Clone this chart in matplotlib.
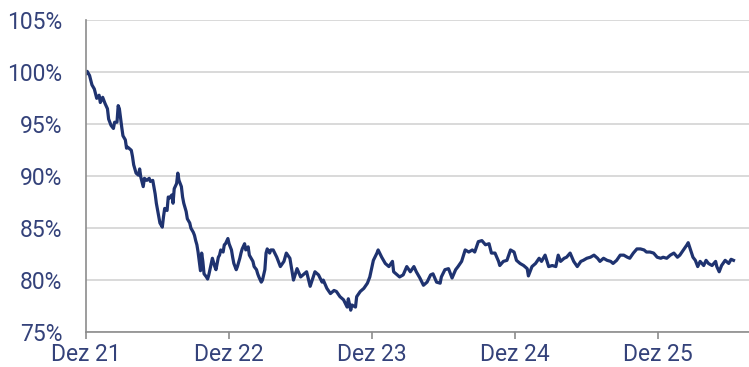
import matplotlib.pyplot as plt
from matplotlib.ticker import FuncFormatter

# months since Dez 21 and indexed value in %
months = [0.0, 0.1, 0.3, 0.5, 0.7, 0.9, 1.1, 1.2, 1.4, 1.6, 1.8, 1.9, 2.1, 2.3, 2.4, 2.6,
          2.7, 2.8, 3.0, 3.1, 3.3, 3.4, 3.5, 3.8, 3.9, 4.0, 4.2, 4.4, 4.5, 4.6, 4.8, 4.9,
          5.1, 5.3, 5.4, 5.6, 5.8, 5.9, 6.1, 6.2, 6.4, 6.5, 6.6, 6.8, 6.9, 7.0, 7.2, 7.3,
          7.4, 7.6, 7.7, 7.8, 8.0, 8.1, 8.2, 8.4, 8.5, 8.7, 8.8, 9.0, 9.1, 9.2, 9.3, 9.4,
          9.6, 9.7, 9.8, 9.9, 10.1, 10.2, 10.3, 10.5, 10.6, 10.8, 10.9, 11.1, 11.2, 11.3,
          11.5, 11.6, 11.7, 11.9, 12.0, 12.2, 12.3, 12.4, 12.6, 12.7, 12.9, 13.0, 13.1,
          13.3, 13.4, 13.6, 13.7, 13.8, 14.0, 14.1, 14.3, 14.4, 14.5, 14.7, 14.8, 15.0,
          15.1, 15.2, 15.4, 15.5, 15.7, 16.0, 16.3, 16.6, 16.8, 17.1, 17.4, 17.7, 18.0,
          18.2, 18.5, 18.8, 19.2, 19.5, 19.8, 19.9, 20.2, 20.5, 20.8, 21.0, 21.3, 21.6,
          21.9, 22.0, 22.2, 22.3, 22.6, 22.7, 23.0, 23.3, 23.6, 23.8, 24.1, 24.4, 24.5,
          24.8, 25.1, 25.4, 25.7, 25.8, 26.1, 26.3, 26.6, 26.9, 27.2, 27.5, 27.7, 28.0,
          28.3, 28.6, 28.9, 29.1, 29.4, 29.7, 29.8, 30.1, 30.4, 30.7, 31.0, 31.2, 31.5,
          31.8, 32.1, 32.4, 32.6, 32.9, 33.2, 33.5, 33.8, 34.0, 34.3, 34.6, 34.7, 35.0,
          35.3, 35.6, 35.9, 36.1, 36.4, 36.7, 37.0, 37.1, 37.4, 37.7, 38.0, 38.2, 38.5,
          38.8, 39.1, 39.4, 39.6, 39.8, 40.1, 40.3, 40.6, 40.9, 41.2, 41.5, 41.7, 42.0,
          42.3, 42.6, 42.9, 43.1, 43.4, 43.7, 44.0, 44.2, 44.5, 44.8, 45.1, 45.4, 45.6,
          45.9, 46.2, 46.5, 46.8, 47.0, 47.3, 47.6, 47.9, 48.2, 48.4, 48.7, 49.0, 49.3,
          49.6, 49.8, 50.1, 50.4, 50.5, 50.7, 50.9, 51.1, 51.3, 51.5, 51.8, 52.0, 52.2,
          52.5, 52.8, 52.9, 53.1, 53.3, 53.6, 53.9, 54.1, 54.3]
values = [99.9, 100.1, 99.7, 98.8, 98.4, 97.5, 97.8, 97.1, 97.6, 97.0, 96.5, 95.5, 94.9, 94.6, 95.2, 95.2,
          96.8, 96.5, 94.7, 93.9, 93.5, 92.7, 92.8, 92.5, 91.9, 91.1, 90.3, 90.1, 90.7, 89.9, 89.0, 89.8,
          89.6, 89.8, 89.5, 89.6, 88.3, 87.4, 86.1, 85.5, 85.1, 86.1, 86.9, 86.7, 88.0, 87.9, 88.2, 87.4,
          88.8, 89.3, 90.3, 89.6, 89.0, 88.0, 87.4, 86.6, 85.9, 85.5, 85.0, 84.6, 84.3, 83.8, 83.4, 82.7,
          80.9, 82.6, 81.8, 80.6, 80.3, 80.1, 80.5, 81.6, 82.1, 81.3, 81.0, 82.2, 82.4, 82.9,
          82.7, 83.4, 83.5, 84.0, 83.5, 82.9, 82.2, 81.6, 81.0, 81.3, 82.1, 82.6, 83.0,
          83.5, 82.9, 83.2, 82.4, 82.2, 81.8, 81.3, 81.0, 80.6, 80.3, 79.8, 80.0, 81.0,
          82.6, 83.0, 82.6, 82.9, 82.9, 82.2, 81.3, 81.8, 82.6, 82.1, 80.0, 81.1, 80.3,
          80.5, 80.8, 79.4, 80.8, 80.5, 79.8, 80.0, 79.2, 78.7, 79.0, 78.9, 78.4, 78.1,
          77.4, 78.2, 77.1, 77.6, 77.4, 78.4, 78.9, 79.2, 79.7, 80.3, 81.9, 82.6, 82.9,
          82.2, 81.6, 81.3, 81.8, 80.8, 80.5, 80.3, 80.5, 81.3, 80.8, 81.3, 80.8, 80.2,
          79.5, 79.8, 80.5, 80.6, 79.8, 79.7, 80.3, 81.0, 81.1, 80.2, 81.0, 81.3, 81.8,
          82.9, 82.7, 82.9, 82.7, 83.7, 83.8, 83.4, 83.5, 82.6, 82.6, 81.8, 81.4, 81.8,
          81.9, 82.9, 82.7, 81.9, 81.6, 81.4, 81.1, 80.4, 81.3, 81.6, 82.1, 81.8, 82.4,
          81.3, 81.4, 81.3, 82.4, 81.8, 82.1, 82.2, 82.6, 81.8, 81.3, 81.8, 81.9, 82.1,
          82.2, 82.4, 82.1, 81.8, 82.1, 81.9, 81.8, 81.6, 81.9, 82.4, 82.4, 82.2, 82.1,
          82.6, 83.0, 83.0, 82.9, 82.7, 82.7, 82.6, 82.2, 82.1, 82.2, 82.1, 82.4, 82.6,
          82.2, 82.4, 82.9, 83.4, 83.6, 82.9, 82.2, 81.9, 81.3, 81.8, 81.4, 81.9, 81.6,
          81.4, 81.8, 81.3, 80.8, 81.4, 81.9, 81.6, 82.0, 81.9]

tick_months = [0, 12, 24, 36, 48]
tick_labels = ['Dez 21', 'Dez 22', 'Dez 23', 'Dez 24', 'Dez 25']
y_ticks = [75, 80, 85, 90, 95, 100, 105]

line_color = '#1f3370'
text_color = '#34427a'

plt.rcParams['font.family'] = ['Roboto', 'DejaVu Sans']

fig = plt.figure(figsize=(7.49, 3.67), dpi=100)
ax = fig.add_axes([0.1148, 0.0954, 0.8852, 0.8488])

ax.plot(months, values, color=line_color, linewidth=2.3, solid_joinstyle='round')

ax.set_xlim(0, 55.6)
ax.set_ylim(75, 105)
ax.set_yticks(y_ticks)
ax.yaxis.set_major_formatter(FuncFormatter(lambda v, p: '{:.0f}%'.format(v)))
ax.set_xticks(tick_months)
ax.set_xticklabels(tick_labels)

ax.grid(axis='y', color='#d3d3d3', linewidth=1.2)
ax.set_axisbelow(True)
for s in ['top', 'right']:
    ax.spines[s].set_visible(False)
for s in ['left', 'bottom']:
    ax.spines[s].set_color('#8c8c8c')
    ax.spines[s].set_linewidth(1.2)

ax.tick_params(axis='y', length=0, pad=17, labelsize=16.5, labelcolor=text_color)
ax.tick_params(axis='x', length=5, width=1.2, color='#8c8c8c', pad=3,
               labelsize=16.5, labelcolor=text_color)

fig.savefig('out.png', dpi=100)
plt.close()
